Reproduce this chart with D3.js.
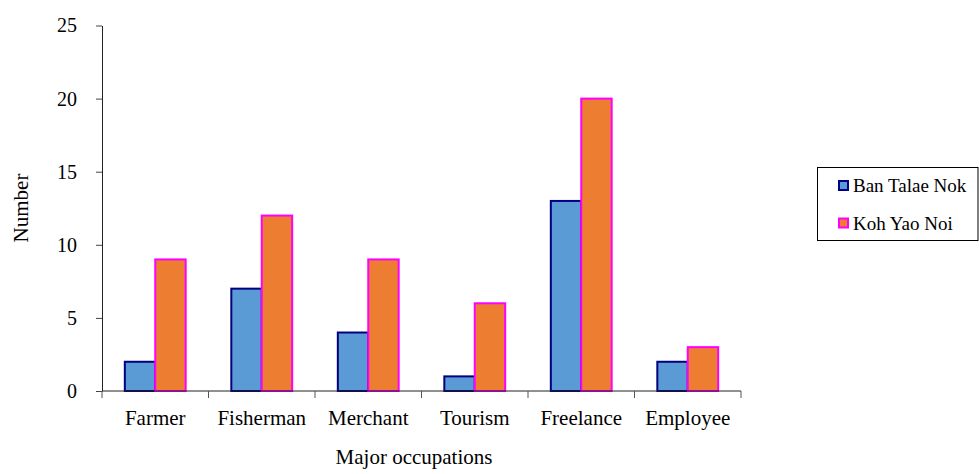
<!DOCTYPE html>
<html>
<head>
<meta charset="utf-8">
<script src="https://cdn.jsdelivr.net/npm/d3@7"></script>
<style>
  body { margin: 0; background: #fff; }
  text { font-family: "Liberation Serif", "Times New Roman", serif; fill: #000; }
</style>
</head>
<body>
<div id="chart"></div>
<script>
// categories and series
let categories = ["Farmer", "Fisherman", "Merchant", "Tourism", "Freelance", "Employee"];
let seriesNames = ["Ban Talae Nok", "Koh Yao Noi"];
let banTalaeNok = [2, 7, 4, 1, 13, 2];
let kohYaoNoi = [9, 12, 9, 6, 20, 3];
let yTicks = [0, 5, 10, 15, 20, 25];

let fills = ["#5B9BD5", "#ED7D31"];
let strokes = ["#000080", "#FF00FF"];

let width = 979, height = 474;
let plot = { left: 102, right: 741, top: 25.5, bottom: 391 };

let svg = d3.select("#chart").append("svg")
  .attr("width", width)
  .attr("height", height);

let x = d3.scaleBand().domain(categories).range([plot.left, plot.right]);
let y = d3.scaleLinear().domain([0, 25]).range([plot.bottom, plot.top]);

// bars inside each band: gap on both sides
let inner = d3.scaleBand().domain([0, 1]).range([0, x.bandwidth()]).paddingOuter(0.75).paddingInner(0);

let series = [banTalaeNok, kohYaoNoi];
series.forEach(function (vals, s) {
  svg.append("g")
    .selectAll("rect")
    .data(vals)
    .enter()
    .append("rect")
    .attr("x", (d, i) => x(categories[i]) + inner(s))
    .attr("y", (d) => y(d))
    .attr("width", inner.bandwidth())
    .attr("height", (d) => y(0) - y(d))
    .style("fill", fills[s])
    .style("stroke", strokes[s])
    .style("stroke-width", 2);
});

// y axis
let yAxis = svg.append("g")
  .attr("transform", "translate(" + plot.left + ",0)")
  .call(d3.axisLeft(y).tickValues(yTicks).tickSize(6).tickPadding(19).tickSizeOuter(0));
yAxis.select(".domain").attr("stroke", "#222");
yAxis.selectAll(".tick line").attr("stroke", "#444");
yAxis.selectAll("text").style("font-size", "20px");

// x axis: ticks on band boundaries
let xAxis = svg.append("g")
  .attr("transform", "translate(0," + plot.bottom + ")");
xAxis.append("line")
  .attr("x1", plot.left).attr("x2", plot.right)
  .attr("stroke", "#222");
let bounds = categories.map((c) => x(c)).concat([plot.right]);
xAxis.selectAll(".btick")
  .data(bounds)
  .enter()
  .append("line")
  .attr("x1", (d) => d).attr("x2", (d) => d)
  .attr("y1", 0).attr("y2", 7)
  .attr("stroke", "#555");
xAxis.selectAll(".xlabel")
  .data(categories)
  .enter()
  .append("text")
  .attr("x", (d) => x(d) + x.bandwidth() / 2)
  .attr("y", 34)
  .attr("text-anchor", "middle")
  .style("font-size", "21px")
  .text((d) => d);

// axis titles
svg.append("text")
  .attr("transform", "translate(28,208) rotate(-90)")
  .attr("text-anchor", "middle")
  .style("font-size", "21px")
  .text("Number");

svg.append("text")
  .attr("x", 414)
  .attr("y", 464)
  .attr("text-anchor", "middle")
  .style("font-size", "21px")
  .text("Major occupations");

// legend
let legend = svg.append("g");
legend.append("rect")
  .attr("x", 817.5).attr("y", 167.5)
  .attr("width", 160.5).attr("height", 73)
  .style("fill", "#fff")
  .style("stroke", "#000")
  .style("stroke-width", 1);
seriesNames.forEach(function (name, s) {
  let cy = 185.5 + s * 37.5;
  legend.append("rect")
    .attr("x", 839).attr("y", cy - 4.5)
    .attr("width", 9).attr("height", 9)
    .style("fill", fills[s])
    .style("stroke", strokes[s])
    .style("stroke-width", 2);
  legend.append("text")
    .attr("x", 853).attr("y", cy + 6.5)
    .style("font-size", "19px")
    .text(name);
});
</script>
</body>
</html>
